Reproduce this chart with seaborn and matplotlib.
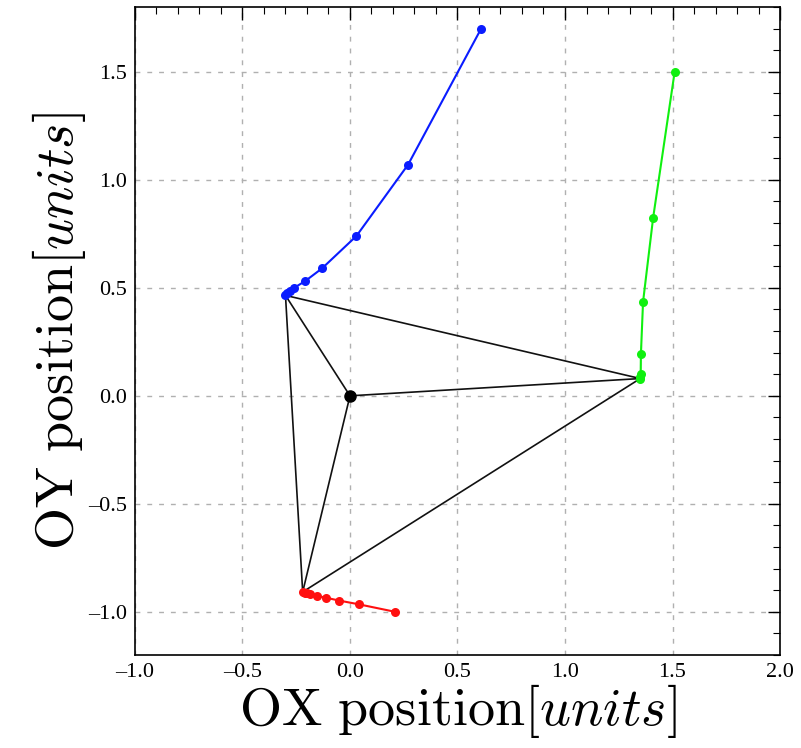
import matplotlib
matplotlib.use("Agg")
import matplotlib.pyplot as plt
import seaborn as sns
import pandas as pd
from matplotlib.ticker import MultipleLocator

# Trajectories
blue_x = [0.61, 0.27, 0.03, -0.13, -0.21, -0.26, -0.28, -0.295, -0.30]
blue_y = [1.70, 1.07, 0.74, 0.59, 0.53, 0.50, 0.485, 0.475, 0.465]
green_x = [1.51, 1.41, 1.363, 1.353, 1.353, 1.352, 1.352, 1.351, 1.35]
green_y = [1.50, 0.825, 0.435, 0.235, 0.15, 0.11, 0.095, 0.087, 0.08]
red_x = [0.21, 0.04, -0.05, -0.11, -0.155, -0.185, -0.20, -0.21, -0.22]
red_y = [-1.00, -0.965, -0.948, -0.935, -0.926, -0.919, -0.914, -0.911, -0.908]
center = (0.0, 0.0)

x_ticks = [-1.0, -0.5, 0.0, 0.5, 1.0, 1.5, 2.0]
y_ticks = [-1.0, -0.5, 0.0, 0.5, 1.0, 1.5]

sns.set_style("white")
plt.rcParams["font.family"] = ["Liberation Serif", "DejaVu Serif"]
plt.rcParams["mathtext.fontset"] = "cm"
plt.rcParams["text.color"] = "black"
plt.rcParams["axes.labelcolor"] = "black"
plt.rcParams["xtick.color"] = "black"
plt.rcParams["ytick.color"] = "black"

fig = plt.figure(figsize=(8.01, 7.48), dpi=100)
ax = fig.add_axes([0.1685, 0.1243, 0.9738 - 0.1685, 0.9906 - 0.1243])

# Black structure
A = (blue_x[-1], blue_y[-1])
B = (green_x[-1], green_y[-1])
C = (red_x[-1], red_y[-1])
segments = [(A, B), (B, C), (C, A), (center, A), (center, B), (center, C)]
for p, q in segments:
    df = pd.DataFrame({"x": [p[0], q[0]], "y": [p[1], q[1]]})
    sns.lineplot(data=df, x="x", y="y", sort=False, color="#111111", lw=1.2, ax=ax)

for xs, ys, col in [(blue_x, blue_y, "#0a1cff"), (green_x, green_y, "#10f010"), (red_x, red_y, "#ff1010")]:
    df = pd.DataFrame({"x": xs, "y": ys})
    sns.lineplot(data=df, x="x", y="y", sort=False, color=col, lw=1.5,
                 marker="o", markersize=6.5, markeredgewidth=0, ax=ax)

ax.plot([center[0]], [center[1]], "o", color="black", markersize=8)

ax.set_xlim(-1.0, 2.0)
ax.set_ylim(-1.2, 1.8)
ax.set_xticks(x_ticks)
ax.set_yticks(y_ticks)
ax.set_xticklabels([f"{v:.1f}".replace("-", "\u2013") for v in x_ticks])
ax.set_yticklabels([f"{v:.1f}".replace("-", "\u2013") for v in y_ticks])
ax.xaxis.set_minor_locator(MultipleLocator(0.1))
ax.yaxis.set_minor_locator(MultipleLocator(0.1))
ax.tick_params(which="both", direction="in", top=True, right=True, labelsize=16,
               color="black", labelcolor="black", pad=6)
ax.tick_params(which="major", length=9, width=1)
ax.tick_params(which="minor", length=5, width=0.8)
ax.grid(True, which="major", color="#b0b0b0", linestyle=(0, (3.5, 5)), linewidth=1.0)
for s in ax.spines.values():
    s.set_color("black")
    s.set_linewidth(1.2)

ax.set_xlabel(r"$\mathrm{OX\ position}[units]$", fontsize=39, labelpad=0, color="black")
ax.set_ylabel(r"$\mathrm{OY\ position}[units]$", fontsize=39, labelpad=0, color="black")

fig.savefig("out.png", dpi=100)
